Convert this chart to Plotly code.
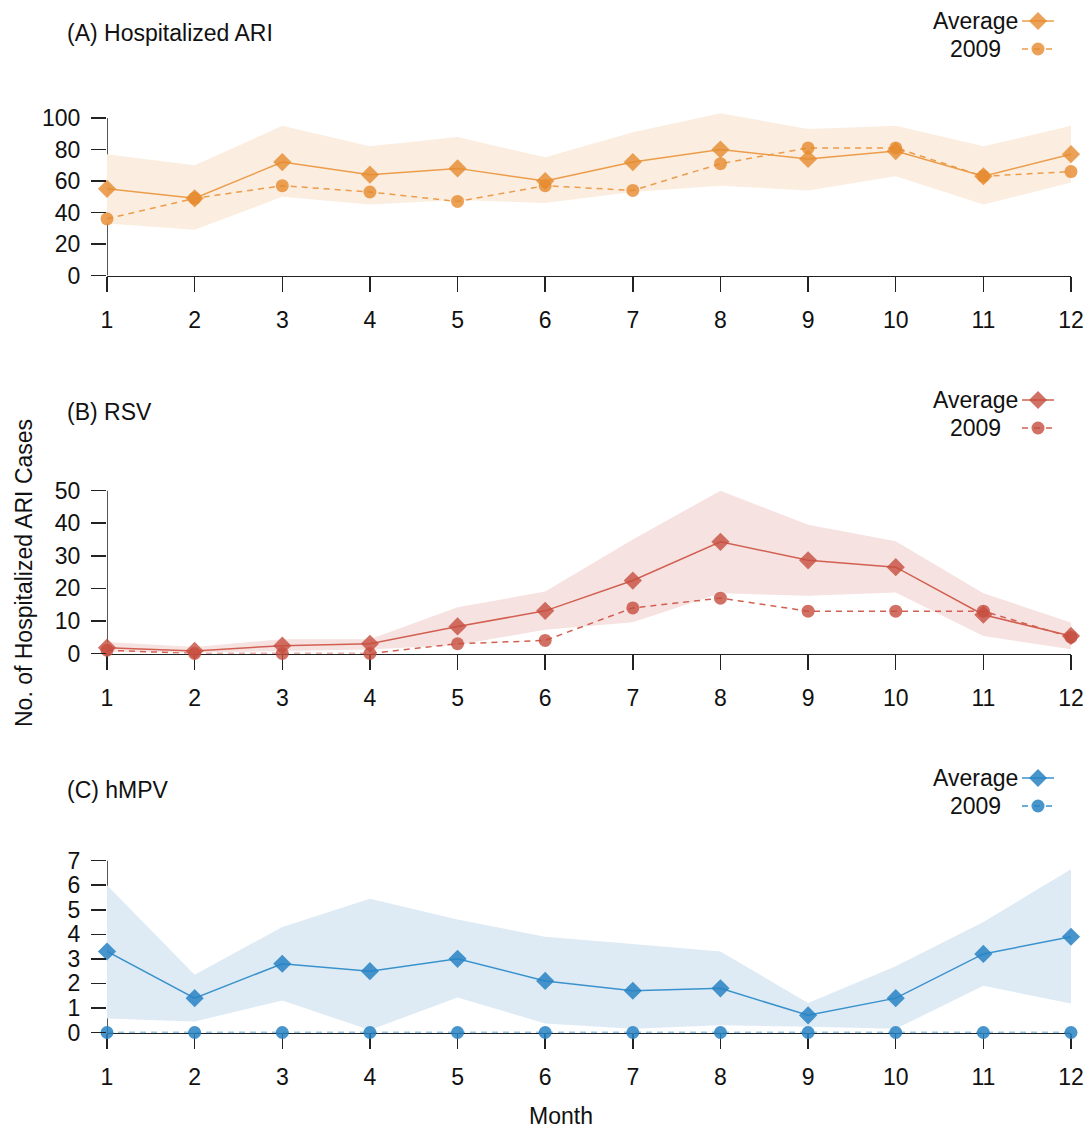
import plotly.graph_objects as go

months = [1, 2, 3, 4, 5, 6, 7, 8, 9, 10, 11, 12]

ari_avg = [55, 49, 72, 64, 68, 60, 72, 80, 74, 79, 63, 77]
ari_2009 = [36, 49, 57, 53, 47, 57, 54, 71, 81, 81, 63, 66]
ari_hi = [77, 70, 95, 82, 88, 75, 91, 103, 93, 95, 82, 95]
ari_lo = [33, 29, 50, 45, 48, 46, 53, 57, 54, 63, 45, 59]

rsv_avg = [1.8, 0.8, 2.4, 3.0, 8.3, 13.1, 22.4, 34.3, 28.6, 26.5, 11.9, 5.4]
rsv_2009 = [1, 0, 0, 0, 3, 4, 14, 17, 13, 13, 13, 5]
rsv_hi = [3.5, 2.0, 4.4, 4.4, 14.2, 19.0, 35.0, 50.0, 39.5, 34.5, 18.5, 9.5]
rsv_lo = [0.5, 0.3, 0.8, 1.2, 2.6, 7.3, 9.6, 18.5, 17.7, 18.7, 5.4, 1.3]

hmpv_avg = [3.3, 1.4, 2.8, 2.5, 3.0, 2.1, 1.7, 1.8, 0.7, 1.4, 3.2, 3.9]
hmpv_2009 = [0, 0, 0, 0, 0, 0, 0, 0, 0, 0, 0, 0]
hmpv_hi = [6.0, 2.35, 4.3, 5.45, 4.6, 3.9, 3.6, 3.3, 1.2, 2.7, 4.5, 6.65]
hmpv_lo = [0.57, 0.45, 1.3, 0.1, 1.43, 0.37, 0.15, 0.3, 0.23, 0.15, 1.9, 1.18]

titles = ["(A) Hospitalized ARI", "(B) RSV", "(C) hMPV"]
y_ticks = [[0, 20, 40, 60, 80, 100], [0, 10, 20, 30, 40, 50], [0, 1, 2, 3, 4, 5, 6, 7]]

W, H = 1091, 1131
X1, X12 = 107, 1071  # screen px of month 1 and 12
L, R = X1, W - X12
FONT = "Liberation Sans, Arial, Helvetica, sans-serif"
FS = 23


def px_x(p):
    return (p - X1) / (X12 - X1)


def px_y(p):
    return 1 - p / H


panels = [
    dict(avg=ari_avg, y09=ari_2009, hi=ari_hi, lo=ari_lo, rng=[0, 105], ymax=100,
         dom=[px_y(275.5), px_y(110.1)], line="rgb(236,156,74)", mark="rgba(230,138,45,0.8)",
         band="rgb(251,238,224)", title_y=33, leg_y=21),
    dict(avg=rsv_avg, y09=rsv_2009, hi=rsv_hi, lo=rsv_lo, rng=[0, 51], ymax=50,
         dom=[px_y(653.5), px_y(487.4)], line="rgb(210,96,82)", mark="rgba(198,78,62,0.8)",
         band="rgb(246,226,225)", title_y=412, leg_y=400),
    dict(avg=hmpv_avg, y09=hmpv_2009, hi=hmpv_hi, lo=hmpv_lo, rng=[0, 7.1], ymax=7,
         dom=[px_y(1032.5), px_y(858.2)], line="rgb(58,146,204)", mark="rgba(40,130,195,0.85)",
         band="rgb(222,235,245)", title_y=790, leg_y=778),
]

fig = go.Figure()
annotations = []
shapes = []

for i, p in enumerate(panels):
    n = "" if i == 0 else str(i + 1)
    xa, ya = "x" + n, "y" + n
    fig.add_trace(go.Scatter(x=months, y=p["lo"], mode="lines", line=dict(width=0),
                             hoverinfo="skip", showlegend=False, xaxis=xa, yaxis=ya))
    fig.add_trace(go.Scatter(x=months, y=p["hi"], mode="lines", line=dict(width=0),
                             fill="tonexty", fillcolor=p["band"], hoverinfo="skip",
                             showlegend=False, xaxis=xa, yaxis=ya))
    fig.add_trace(go.Scatter(x=months, y=p["y09"], mode="lines+markers",
                             line=dict(color=p["line"], width=1.5, dash="6px,5px"),
                             marker=dict(symbol="circle", size=13, color=p["mark"]),
                             cliponaxis=False, showlegend=False, xaxis=xa, yaxis=ya))
    fig.add_trace(go.Scatter(x=months, y=p["avg"], mode="lines+markers",
                             line=dict(color=p["line"], width=1.5),
                             marker=dict(symbol="diamond", size=14, color=p["mark"]),
                             cliponaxis=False, showlegend=False, xaxis=xa, yaxis=ya))

    key = "" if i == 0 else str(i + 1)
    fig.layout["xaxis" + key] = dict(
        domain=[0, 1], range=[0.9999, 12.0001], anchor=ya, tickmode="array", tickvals=months,
        ticktext=[str(m) for m in months], ticks="outside", ticklen=15, tickwidth=1.5,
        tickcolor="#222", showline=True, linecolor="#222", linewidth=1.5, showgrid=False,
        zeroline=False, ticklabelstandoff=8, automargin=False, layer="below traces",
        ticklabeloverflow="allow",
        tickfont=dict(family=FONT, size=FS, color="#111"))
    fig.layout["yaxis" + key] = dict(
        domain=p["dom"], range=p["rng"], anchor=xa, tickmode="array", tickvals=y_ticks[i],
        ticks="outside", ticklen=15, tickwidth=1.5, tickcolor="#222", showline=False,
        showgrid=False, zeroline=False, ticklabelstandoff=6, automargin=False,
        ticklabeloverflow="allow",
        tickfont=dict(family=FONT, size=FS, color="#111"))
    shapes.append(dict(type="line", xref=xa, yref=ya, x0=1, x1=1, y0=0, y1=p["ymax"],
                       line=dict(color="#222", width=1.5), layer="below"))

    annotations.append(dict(text=titles[i], xref="paper", yref="paper", x=px_x(65),
                            y=px_y(p["title_y"]), xanchor="left", yanchor="middle",
                            showarrow=False, font=dict(family=FONT, size=FS, color="#111")))
    for j, (lab, ly) in enumerate([("Average", p["leg_y"]), ("2009", p["leg_y"] + 28)]):
        annotations.append(dict(text=lab, xref="paper", yref="paper", x=px_x(975),
                                y=px_y(ly), xanchor="center", yanchor="middle",
                                showarrow=False, font=dict(family=FONT, size=FS, color="#111")))
        yy = px_y(ly)
        if j == 0:
            shapes.append(dict(type="line", xref="paper", yref="paper", x0=px_x(1022),
                               x1=px_x(1054), y0=yy, y1=yy, line=dict(color=p["line"], width=1.5)))
            shapes.append(dict(type="path", xref="paper", yref="paper", xsizemode="pixel",
                               ysizemode="pixel", xanchor=px_x(1038), yanchor=yy,
                               path="M -9,0 L 0,9 L 9,0 L 0,-9 Z", fillcolor=p["mark"],
                               line=dict(width=0)))
        else:
            shapes.append(dict(type="line", xref="paper", yref="paper", x0=px_x(1022),
                               x1=px_x(1054), y0=yy, y1=yy,
                               line=dict(color=p["line"], width=1.5, dash="6px,6px")))
            shapes.append(dict(type="circle", xref="paper", yref="paper", xsizemode="pixel",
                               ysizemode="pixel", xanchor=px_x(1038), yanchor=yy,
                               x0=-6.5, x1=6.5, y0=-6.5, y1=6.5, fillcolor=p["mark"],
                               line=dict(width=0)))

annotations.append(dict(text="No. of Hospitalized ARI Cases", xref="paper", yref="paper",
                        x=px_x(24), y=px_y(573), xanchor="center", yanchor="middle",
                        textangle=-90, showarrow=False,
                        font=dict(family=FONT, size=FS, color="#111")))
annotations.append(dict(text="Month", xref="paper", yref="paper", x=px_x(561),
                        y=px_y(1116), xanchor="center", yanchor="middle", showarrow=False,
                        font=dict(family=FONT, size=FS, color="#111")))

fig.update_layout(template="none", width=W, height=H, margin=dict(l=L, r=R, t=0, b=0),
                  paper_bgcolor="white", plot_bgcolor="white",
                  annotations=annotations, shapes=shapes, showlegend=False,
                  font=dict(family=FONT, size=FS, color="#111"))

fig.write_html("out.html", config={"displayModeBar": False, "staticPlot": True},
               post_script="document.body.style.margin='0px';"
                           "document.documentElement.style.overflow='hidden';")
